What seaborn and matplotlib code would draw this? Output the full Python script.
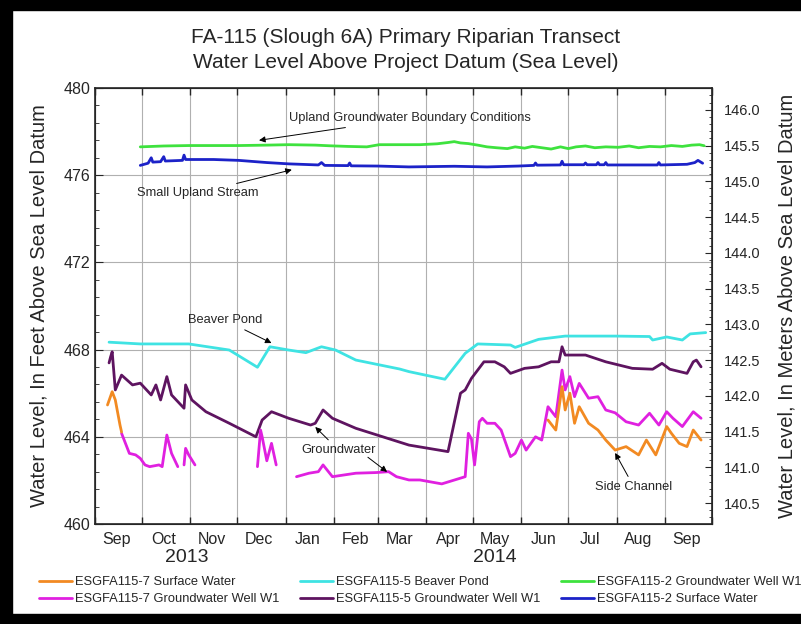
import matplotlib
matplotlib.use("Agg")
import matplotlib.pyplot as plt
import matplotlib.dates as mdates
from matplotlib.ticker import MultipleLocator, NullFormatter, FormatStrFormatter
from matplotlib.lines import Line2D
from matplotlib.patches import Rectangle
import numpy as np
import pandas as pd
import seaborn as sns

# water levels in feet; NaN marks a gap in the record
sw7_dates = ["2013-09-09", "2013-09-12", "2013-09-14", "2013-09-17", "2013-09-18", "2013-09-19",
             "2014-06-18", "2014-06-23", "2014-06-27", "2014-06-29", "2014-07-02", "2014-07-05",
             "2014-07-08", "2014-07-14", "2014-07-20", "2014-07-25", "2014-07-31", "2014-08-07",
             "2014-08-15", "2014-08-20", "2014-08-26", "2014-09-02", "2014-09-05", "2014-09-10",
             "2014-09-15", "2014-09-19", "2014-09-24"]
sw7_ft = [465.46, 466.07, 465.69, 464.54, 464.22, np.nan,
          464.77, 464.31, 466.30, 465.23, 466.00, 464.62,
          465.38, 464.62, 464.31, 463.85, 463.39, 463.55,
          463.17, 463.85, 463.17, 464.47, 464.16, 463.70,
          463.55, 464.31, 463.85]

gw7_dates = ["2013-09-18", "2013-09-23", "2013-09-27", "2013-09-30", "2013-10-03", "2013-10-06",
             "2013-10-12", "2013-10-14", "2013-10-17", "2013-10-20", "2013-10-24", "2013-10-26",
             "2013-10-28", "2013-10-29", "2013-10-31", "2013-11-04", "2013-11-10",
             "2013-12-14", "2013-12-16", "2013-12-17", "2013-12-20", "2013-12-23", "2013-12-26",
             "2014-01-01",
             "2014-01-08", "2014-01-16", "2014-01-22", "2014-01-25", "2014-01-31", "2014-02-15",
             "2014-02-28", "2014-03-08", "2014-03-13", "2014-03-21", "2014-03-28", "2014-04-11",
             "2014-04-26", "2014-04-28", "2014-04-30", "2014-05-02", "2014-05-05", "2014-05-07",
             "2014-05-10", "2014-05-15", "2014-05-19", "2014-05-25", "2014-05-28", "2014-06-01",
             "2014-06-04", "2014-06-10", "2014-06-14", "2014-06-18", "2014-06-23", "2014-06-27",
             "2014-06-29", "2014-07-02", "2014-07-05", "2014-07-08", "2014-07-14", "2014-07-20",
             "2014-07-25", "2014-07-31", "2014-08-07", "2014-08-15", "2014-08-22", "2014-08-28",
             "2014-09-02", "2014-09-06", "2014-09-12", "2014-09-19", "2014-09-24"]
gw7_ft = [464.16, 463.24, 463.17, 463.01, 462.71, 462.63,
          462.71, 462.63, 464.08, 463.24, 462.63, np.nan,
          462.71, 463.47, 463.17, 462.71, np.nan,
          462.63, 464.31, 464.00, 462.90, 463.70, 462.71,
          np.nan,
          462.17, 462.33, 462.40, 462.71, 462.17, 462.33,
          462.36, 462.40, 462.17, 462.02, 462.02, 461.84,
          462.17, 464.16, 463.90, 462.71, 464.69, 464.85,
          464.62, 464.62, 464.31, 463.09, 463.24, 463.85,
          463.39, 464.00, 463.85, 465.38, 464.92, 467.06,
          466.15, 466.76, 465.84, 466.45, 465.77, 465.84,
          465.23, 465.10, 464.69, 464.54, 465.08, 464.54,
          465.15, 464.85, 464.47, 465.15, 464.85]

pond5_dates = ["2013-09-10", "2013-09-30", "2013-10-31", "2013-11-26", "2013-12-14", "2013-12-22",
               "2014-01-03", "2014-01-14", "2014-01-24", "2014-02-02", "2014-02-15", "2014-03-15",
               "2014-03-21", "2014-04-13", "2014-04-26", "2014-05-04", "2014-05-25", "2014-05-28",
               "2014-06-12", "2014-06-29", "2014-07-31", "2014-08-22", "2014-08-24", "2014-09-02",
               "2014-09-12", "2014-09-17", "2014-09-27"]
pond5_ft = [468.34, 468.26, 468.26, 467.98, 467.19, 468.13,
            467.98, 467.86, 468.13, 467.98, 467.52, 467.11,
            466.99, 466.64, 467.83, 468.26, 468.21, 468.10,
            468.47, 468.62, 468.62, 468.60, 468.44, 468.58,
            468.44, 468.72, 468.78]

gw5_dates = ["2013-09-10", "2013-09-11", "2013-09-12", "2013-09-14", "2013-09-18", "2013-09-25",
             "2013-09-30", "2013-10-07", "2013-10-10", "2013-10-13", "2013-10-17", "2013-10-20",
             "2013-10-28", "2013-10-29", "2013-11-02", "2013-11-11", "2013-11-26", "2013-12-13",
             "2013-12-17", "2013-12-23", "2014-01-03", "2014-01-17", "2014-01-20", "2014-01-25",
             "2014-01-31", "2014-02-15", "2014-03-21", "2014-04-15", "2014-04-23", "2014-04-26",
             "2014-04-30", "2014-05-08", "2014-05-15", "2014-05-21", "2014-05-25", "2014-06-03",
             "2014-06-12", "2014-06-20", "2014-06-25", "2014-06-27", "2014-06-29", "2014-07-12",
             "2014-07-25", "2014-08-11", "2014-08-24", "2014-08-30", "2014-09-04", "2014-09-15",
             "2014-09-19", "2014-09-21", "2014-09-24"]
gw5_ft = [467.39, 467.67, 467.90, 466.15, 466.83, 466.38,
          466.46, 465.92, 466.38, 465.69, 466.76, 465.92,
          465.31, 466.38, 465.69, 465.15, 464.62, 464.00,
          464.77, 465.15, 464.85, 464.54, 464.62, 465.23,
          464.85, 464.39, 463.62, 463.32, 466.00, 466.15,
          466.68, 467.44, 467.44, 467.21, 466.91, 467.14,
          467.21, 467.44, 467.44, 468.13, 467.75, 467.75,
          467.44, 467.14, 467.10, 467.37, 467.10, 466.91,
          467.44, 467.52, 467.21]

gw2_dates = ["2013-09-30", "2013-10-15", "2013-10-31", "2013-11-16", "2013-12-02", "2013-12-20",
             "2014-01-03", "2014-01-20", "2014-01-29", "2014-02-10", "2014-02-22", "2014-03-02",
             "2014-03-15", "2014-03-28", "2014-04-08", "2014-04-15", "2014-04-19", "2014-04-23",
             "2014-04-28", "2014-05-04", "2014-05-10", "2014-05-16", "2014-05-23", "2014-05-28",
             "2014-06-03", "2014-06-08", "2014-06-14", "2014-06-20", "2014-06-26", "2014-07-01",
             "2014-07-06", "2014-07-12", "2014-07-18", "2014-07-25", "2014-08-02", "2014-08-09",
             "2014-08-15", "2014-08-22", "2014-08-29", "2014-09-05", "2014-09-12", "2014-09-18",
             "2014-09-23", "2014-09-26"]
gw2_ft = [477.30, 477.34, 477.36, 477.36, 477.36, 477.38,
          477.40, 477.38, 477.35, 477.32, 477.30, 477.40,
          477.40, 477.40, 477.44, 477.50, 477.54, 477.48,
          477.45, 477.38, 477.30, 477.26, 477.22, 477.30,
          477.24, 477.32, 477.26, 477.20, 477.30, 477.22,
          477.30, 477.34, 477.26, 477.30, 477.28, 477.34,
          477.26, 477.32, 477.30, 477.36, 477.32, 477.38,
          477.40, 477.35]

sw2_dates = ["2013-09-30", "2013-10-05", "2013-10-07", "2013-10-08", "2013-10-13", "2013-10-15",
             "2013-10-16", "2013-10-27", "2013-10-28", "2013-10-29", "2013-11-16", "2013-12-02",
             "2013-12-20", "2014-01-03", "2014-01-22", "2014-01-24", "2014-01-26", "2014-02-10",
             "2014-02-11", "2014-02-12", "2014-03-01", "2014-03-21", "2014-04-19", "2014-05-10",
             "2014-05-30", "2014-06-09", "2014-06-10", "2014-06-11", "2014-06-26", "2014-06-27",
             "2014-06-28", "2014-07-11", "2014-07-12", "2014-07-13", "2014-07-19", "2014-07-20",
             "2014-07-21", "2014-07-24", "2014-07-25", "2014-07-26", "2014-08-12", "2014-08-27",
             "2014-08-28", "2014-08-29", "2014-09-15", "2014-09-20", "2014-09-22", "2014-09-25"]
sw2_ft = [476.45, 476.55, 476.80, 476.60, 476.62, 476.85,
          476.65, 476.68, 476.92, 476.72, 476.72, 476.68,
          476.58, 476.52, 476.47, 476.58, 476.45, 476.44,
          476.56, 476.43, 476.42, 476.38, 476.41, 476.38,
          476.42, 476.45, 476.56, 476.46, 476.47, 476.64,
          476.48, 476.48, 476.56, 476.48, 476.48, 476.58,
          476.48, 476.48, 476.58, 476.47, 476.47, 476.47,
          476.58, 476.47, 476.50, 476.58, 476.68, 476.55]

series = [
    ("ESGFA115-7 Surface Water", sw7_dates, sw7_ft, "#f28a22"),
    ("ESGFA115-7 Groundwater Well W1", gw7_dates, gw7_ft, "#e020e0"),
    ("ESGFA115-5 Beaver Pond", pond5_dates, pond5_ft, "#3fe3e3"),
    ("ESGFA115-5 Groundwater Well W1", gw5_dates, gw5_ft, "#5e1460"),
    ("ESGFA115-2 Groundwater Well W1", gw2_dates, gw2_ft, "#3ee23e"),
    ("ESGFA115-2 Surface Water", sw2_dates, sw2_ft, "#1c22c8"),
]
draw_order = [2, 4, 5, 3, 1, 0]

sns.set_style("ticks")
plt.rcParams["font.family"] = ["Liberation Sans", "DejaVu Sans"]

fig = plt.figure(figsize=(8.01, 6.24), dpi=100)
ax = fig.add_axes([95 / 801, 100 / 624, 617 / 801, 436 / 624])

for i in draw_order:
    name, d, v, c = series[i]
    df = pd.DataFrame({"date": pd.to_datetime(d), "ft": v})
    df["seg"] = df["ft"].isna().cumsum()
    df = df.dropna()
    sns.lineplot(data=df, x="date", y="ft", units="seg", estimator=None,
                 color=c, lw=2.0, ax=ax, legend=False)

ax.set_xlim(pd.Timestamp("2013-09-01"), pd.Timestamp("2014-10-01"))
ax.set_ylim(460, 480)
ax.yaxis.set_major_locator(MultipleLocator(4))
ax.yaxis.set_minor_locator(MultipleLocator(0.8))
ax.xaxis.set_major_locator(mdates.MonthLocator())
ax.xaxis.set_major_formatter(NullFormatter())
ax.xaxis.set_minor_locator(mdates.MonthLocator(bymonthday=15))
ax.xaxis.set_minor_formatter(mdates.DateFormatter("%b"))
ax.tick_params(axis="x", which="major", direction="in", length=5, top=True, width=1)
ax.tick_params(axis="x", which="minor", length=0, labelsize=11.5, pad=6)
ax.tick_params(axis="y", which="major", direction="in", length=6, labelsize=11.5, right=False)
ax.tick_params(axis="y", which="minor", direction="in", length=3, right=False)
ax.grid(True, which="major", color="#b0b0b0", lw=0.8)
ax.set_xlabel("")
ax.set_ylabel("Water Level, In Feet Above Sea Level Datum", fontsize=14.5)
ax.yaxis.set_label_coords(-0.075, 0.5)
for s in ax.spines.values():
    s.set_linewidth(1.2)

ax2 = ax.twinx()
ax2.set_ylim(460 * 0.3048, 480 * 0.3048)
ax2.yaxis.set_major_locator(MultipleLocator(0.5))
ax2.yaxis.set_minor_locator(MultipleLocator(0.1))
ax2.yaxis.set_major_formatter(FormatStrFormatter("%.1f"))
ax2.tick_params(axis="y", which="major", direction="in", length=5, labelsize=10.5, pad=8.5)
ax2.tick_params(axis="y", which="minor", direction="in", length=2.5)
ax2.set_ylabel("Water Level, In Meters Above Sea Level Datum", fontsize=14.5)
ax2.yaxis.set_label_coords(1.106, 0.5)

yr = ax.get_xaxis_transform()
ax.text(pd.Timestamp("2013-10-30"), -0.077, "2013", transform=yr, ha="center", va="center", fontsize=14)
ax.text(pd.Timestamp("2014-05-15"), -0.077, "2014", transform=yr, ha="center", va="center", fontsize=14)

fig.text(0.506, 0.9407, "FA-115 (Slough 6A) Primary Riparian Transect", ha="center", va="center", fontsize=15)
fig.text(0.506, 0.9006, "Water Level Above Project Datum (Sea Level)", ha="center", va="center", fontsize=15)

arrow = dict(arrowstyle="-|>", color="black", lw=0.7, mutation_scale=9, shrinkA=1, shrinkB=0)
def t(s):
    return mdates.date2num(pd.Timestamp(s))

fs_note = 9.3
ax.annotate("Upland Groundwater Boundary Conditions", xy=(t("2013-12-15"), 477.6),
            xytext=(t("2014-01-03"), 478.62), fontsize=fs_note, va="center", ha="left", arrowprops=arrow)
ax.annotate("Small Upland Stream", xy=(t("2014-01-05"), 476.25),
            xytext=(t("2013-09-28"), 475.18), fontsize=fs_note, va="center", ha="left", arrowprops=arrow)
ax.annotate("Beaver Pond", xy=(t("2013-12-23"), 468.3),
            xytext=(t("2013-11-23"), 469.36), fontsize=fs_note, va="center", ha="center", arrowprops=arrow)
ax.annotate("Groundwater", xy=(t("2014-01-20"), 464.45),
            xytext=(t("2014-02-04"), 463.39), fontsize=fs_note, va="center", ha="center", arrowprops=arrow)
ax.annotate("", xy=(t("2014-03-07"), 462.39),
            xytext=(t("2014-02-22"), 463.1), arrowprops=arrow)
ax.annotate("Side Channel", xy=(t("2014-07-31"), 463.26),
            xytext=(t("2014-08-12"), 461.7), fontsize=fs_note, va="center", ha="center", arrowprops=arrow)

handles = [Line2D([], [], color=c, lw=2.0) for _, _, _, c in series]
labels = [n for n, _, _, _ in series]
fig.legend(handles, labels, ncol=3, loc="center left", bbox_to_anchor=(0.034, 0.053),
           frameon=False, fontsize=9.3, handlelength=2.55, handletextpad=0.25,
           columnspacing=1.6, labelspacing=0.38)

# dark frame of the original screenshot
fig.patches.append(Rectangle((0, 0), 12 / 801, 1, transform=fig.transFigure, color="black", zorder=10))
fig.patches.append(Rectangle((0, 1 - 10 / 624), 1, 10 / 624, transform=fig.transFigure, color="black", zorder=10))
fig.patches.append(Rectangle((0, 0), 1, 10 / 624, transform=fig.transFigure, color="black", zorder=10))

fig.savefig("out.png", dpi=100)
